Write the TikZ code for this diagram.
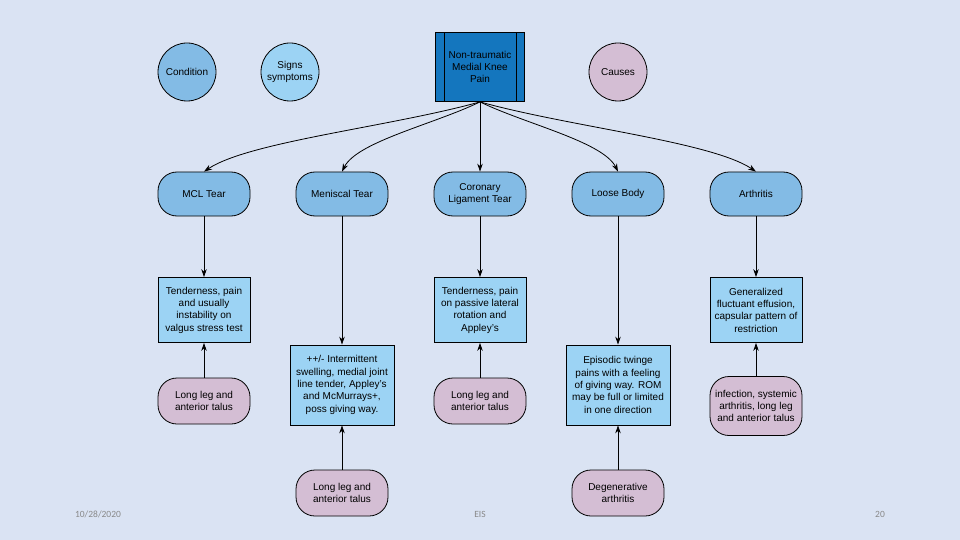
\documentclass[tikz,border=0pt]{standalone}
\usepackage{fontspec}
\setmainfont{Liberation Sans}
\newfontfamily\footfont{Carlito}
\usetikzlibrary{arrows.meta}
\definecolor{slidebg}{RGB}{218,227,243}
\definecolor{topblue}{RGB}{20,118,190}
\definecolor{condblue}{RGB}{131,187,229}
\definecolor{signblue}{RGB}{156,211,244}
\definecolor{causepink}{RGB}{212,190,212}
\definecolor{footgray}{RGB}{137,137,137}
\begin{document}
\begin{tikzpicture}[x = 1pt, y = -1pt,
  every node/.style = {draw, line width = 0.8pt, align = center, inner sep = 2pt,
                       font = \fontsize{10}{12.3}\selectfont},
  legend/.style = {circle, minimum size = 58pt},
  topic/.style = {rectangle, fill = topblue, minimum width = 89pt, minimum height = 69pt},
  condition/.style = {rectangle, rounded corners = 19pt, fill = condblue,
                      minimum width = 92pt, minimum height = 44pt},
  symptom/.style = {rectangle, fill = signblue, minimum width = #1, minimum height = 65pt},
  symptom/.default = 92pt,
  cause/.style = {rectangle, rounded corners = 19pt, fill = causepink,
                  minimum width = 92pt, minimum height = 46pt},
  footer/.style = {draw = none, text = footgray, font = \footfont\fontsize{9.5}{11}\selectfont},
  link/.style = {-{Stealth[length = 8pt, width = 5.5pt]}, line width = 0.8pt},
  ]
  \fill[slidebg] (0,0) rectangle (960,540);

  \node[legend, fill = condblue]  (lcond)  at (187,72) {Condition};
  \node[legend, fill = signblue]  (lsign)  at (290,72) {Signs\\symptoms};
  \node[legend, fill = causepink] (lcause) at (618,72) {Causes};

  \node[topic] (pain) at (480,67) {Non-traumatic\\Medial Knee\\Pain};
  \draw[line width = 0.8pt] ([xshift = 9pt]pain.north west) -- ([xshift = 9pt]pain.south west);
  \draw[line width = 0.8pt] ([xshift = -9pt]pain.north east) -- ([xshift = -9pt]pain.south east);

  \node[condition] (mcl)   at (204,194) {MCL Tear};
  \node[condition] (menis) at (342,194) {Meniscal Tear};
  \node[condition] (coron) at (480,194) {Coronary\\Ligament Tear};
  \node[condition] (loose) at (618,194) {Loose Body};
  \node[condition] (arth)  at (756,194) {Arthritis};

  \node[symptom] (mclsym)   at (204,310) {Tenderness, pain\\and usually\\instability on\\valgus stress test};
  \node[symptom = 104pt, minimum height = 80pt] (menissym) at (342,385)
    {++/- Intermittent\\swelling, medial joint\\line tender, Appley's\\and McMurrays+,\\poss giving way.};
  \node[symptom] (coronsym) at (480,310) {Tenderness, pain\\on passive lateral\\rotation and\\Appley's};
  \node[symptom = 104pt, minimum height = 80pt] (loosesym) at (618,385)
    {Episodic twinge\\pains with a feeling\\of giving way. ROM\\may be full or limited\\in one direction};
  \node[symptom] (arthsym)  at (756,310) {Generalized\\fluctuant effusion,\\capsular pattern of\\restriction};

  \node[cause] (mclcause)   at (204,401) {Long leg and\\anterior talus};
  \node[cause] (meniscause) at (342,493) {Long leg and\\anterior talus};
  \node[cause] (coroncause) at (480,401) {Long leg and\\anterior talus};
  \node[cause] (loosecause) at (618,493) {Degenerative\\arthritis};
  \node[cause, minimum height = 59pt, inner sep = 0pt] (arthcause) at (756,406)
    {infection, systemic\\arthritis, long leg\\and anterior talus};

  \draw[link] (pain.south) .. controls +(-90,25) and +(45,-30) .. (mcl.north);
  \draw[link] (pain.south) .. controls +(-45,22) and +(15,-30) .. (menis.north);
  \draw[link] (pain.south) -- (coron.north);
  \draw[link] (pain.south) .. controls +(45,22) and +(-15,-30) .. (loose.north);
  \draw[link] (pain.south) .. controls +(90,25) and +(-45,-30) .. (arth.north);

  \draw[link] (mcl.south)   -- (mclsym.north);
  \draw[link] (menis.south) -- (menissym.north);
  \draw[link] (coron.south) -- (coronsym.north);
  \draw[link] (loose.south) -- (loosesym.north);
  \draw[link] (arth.south)  -- (arthsym.north);

  \draw[link] (mclcause.north)   -- (mclsym.south);
  \draw[link] (meniscause.north) -- (menissym.south);
  \draw[link] (coroncause.north) -- (coronsym.south);
  \draw[link] (loosecause.north) -- (loosesym.south);
  \draw[link] (arthcause.north)  -- (arthsym.south);

  \node[footer] (date) at (98,514) {10/28/2020};
  \node[footer] (org)  at (480,514) {EIS};
  \node[footer] (page) at (880,514) {20};
\end{tikzpicture}
\end{document}
